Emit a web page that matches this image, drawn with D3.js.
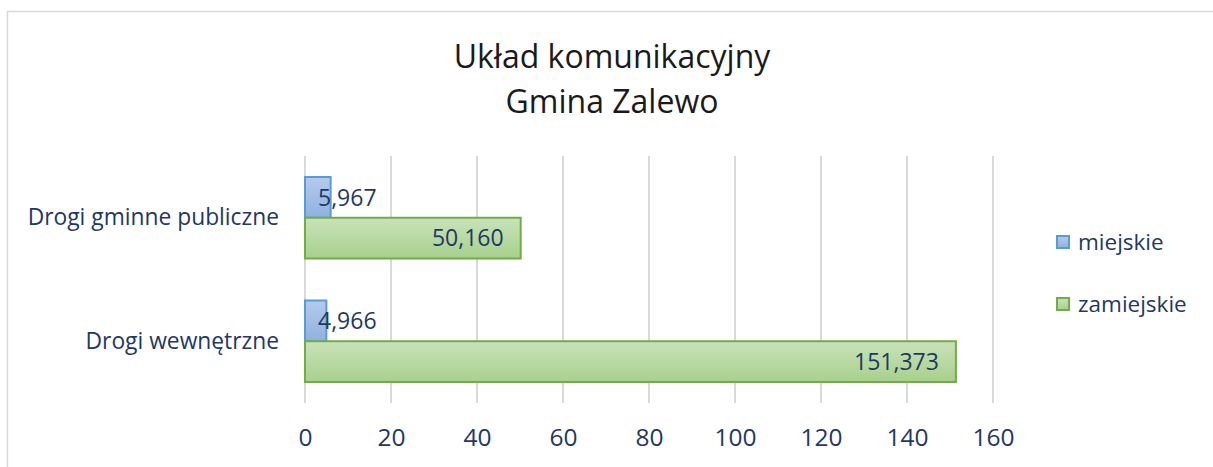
<!DOCTYPE html>
<html>
<head>
<meta charset="utf-8">
<script src="https://cdn.jsdelivr.net/npm/d3@7"></script>
<style>
  body { margin: 0; background: #fff; }
  text { font-family: "Open Sans", Lato, sans-serif; }
</style>
</head>
<body>
<div id="chart"></div>
<script>
// dane wykresu
const categories = ['Drogi gminne publiczne', 'Drogi wewnętrzne']
const seriesNames = ['miejskie', 'zamiejskie']
const miejskie = [5.967, 4.966]
const zamiejskie = [50.160, 151.373]
const tickValues = [0, 20, 40, 60, 80, 100, 120, 140, 160]
const titleLines = ['Układ komunikacyjny', 'Gmina Zalewo']

const W = 1213, H = 467
const navy = '#1f3864'
const FONT = '"Open Sans", Lato, sans-serif'

const svg = d3.select('#chart').append('svg')
  .attr('width', W).attr('height', H)

// gradienty słupków
const defs = svg.append('defs')
const grads = [
  { id: 'gBlue', top: '#b4cbeb', bot: '#8fb1e0' },
  { id: 'gGreen', top: '#c9e3b9', bot: '#a7d08c' }
]
grads.forEach(g => {
  let lg = defs.append('linearGradient').attr('id', g.id)
    .attr('x1', 0).attr('y1', 0).attr('x2', 0).attr('y2', 1)
  lg.append('stop').attr('offset', '0%').attr('stop-color', g.top)
  lg.append('stop').attr('offset', '100%').attr('stop-color', g.bot)
})
const fills = ['url(#gBlue)', 'url(#gGreen)']
const strokes = ['#5b9bd5', '#70ad47']

// ramka
svg.append('rect')
  .attr('x', 7.5).attr('y', 11.5)
  .attr('width', W + 10).attr('height', H + 10)
  .attr('fill', 'none').attr('stroke', '#d9d9d9').attr('stroke-width', 1.5)

// tytuł
svg.append('g').selectAll('text').data(titleLines).join('text')
  .attr('x', 612).attr('y', (d, i) => 68 + i * 45)
  .attr('text-anchor', 'middle')
  .attr('font-size', 32).attr('fill', '#1a1a1a')
  .text(d => d)

const x = d3.scaleLinear().domain([0, 160]).range([305, 993])
const y = d3.scaleBand().domain(categories).range([156, 403]).paddingInner(0.34).paddingOuter(0.17)
const ySub = d3.scaleBand().domain(seriesNames).range([0, y.bandwidth()])

// siatka
svg.append('g').selectAll('line').data(tickValues).join('line')
  .attr('x1', d => x(d)).attr('x2', d => x(d))
  .attr('y1', 156).attr('y2', 403)
  .attr('stroke', '#d9d9d9').attr('stroke-width', 2)

// oś X
const xAxis = svg.append('g').attr('transform', 'translate(0,403)')
  .call(d3.axisBottom(x).tickValues(tickValues).tickSize(0).tickPadding(26))
xAxis.select('.domain').remove()
xAxis.selectAll('text').attr('font-size', 24.5).attr('fill', navy)
  .attr('font-family', FONT)

// oś Y
const yAxis = svg.append('g').attr('transform', 'translate(279,0)')
  .call(d3.axisLeft(y).tickSize(0).tickPadding(0))
yAxis.select('.domain').remove()
yAxis.selectAll('text').attr('font-size', 22.8).attr('fill', navy)
  .attr('font-family', FONT)

const fmt = v => d3.format('.3f')(v).replace('.', ',')

const data = []
categories.forEach((c, i) => {
  data.push({ cat: c, s: 'miejskie', k: 0, v: miejskie[i] })
  data.push({ cat: c, s: 'zamiejskie', k: 1, v: zamiejskie[i] })
})

// słupki
svg.append('g').selectAll('rect').data(data).join('rect')
  .attr('x', x(0))
  .attr('y', d => y(d.cat) + ySub(d.s))
  .attr('width', d => x(d.v) - x(0))
  .attr('height', ySub.bandwidth())
  .attr('fill', d => fills[d.k])
  .attr('stroke', d => strokes[d.k]).attr('stroke-width', 2)

// etykiety danych
const labels = svg.append('g').selectAll('text').data(data).join('text')
  .attr('y', d => y(d.cat) + ySub(d.s) + ySub.bandwidth() / 2)
  .attr('dy', '0.36em')
  .attr('font-size', 23).attr('fill', navy)
  .text(d => fmt(d.v))
labels.each(function(d) {
  let t = d3.select(this)
  let w = this.getComputedTextLength()
  let barW = x(d.v) - x(0)
  if (barW > w + 30) {
    t.attr('x', x(d.v) - 17).attr('text-anchor', 'end')
  } else {
    t.attr('x', x(0) + 13).attr('text-anchor', 'start')
  }
})

// legenda
const leg = svg.append('g').selectAll('g').data(seriesNames).join('g')
  .attr('transform', (d, i) => `translate(1057,${236 + i * 62})`)
leg.append('rect')
  .attr('width', 12).attr('height', 12)
  .attr('fill', (d, i) => fills[i])
  .attr('stroke', (d, i) => strokes[i]).attr('stroke-width', 2)
leg.append('text')
  .attr('x', 21).attr('y', 6).attr('dy', '0.36em')
  .attr('font-size', 22.5).attr('fill', navy)
  .text(d => d)
</script>
</body>
</html>
